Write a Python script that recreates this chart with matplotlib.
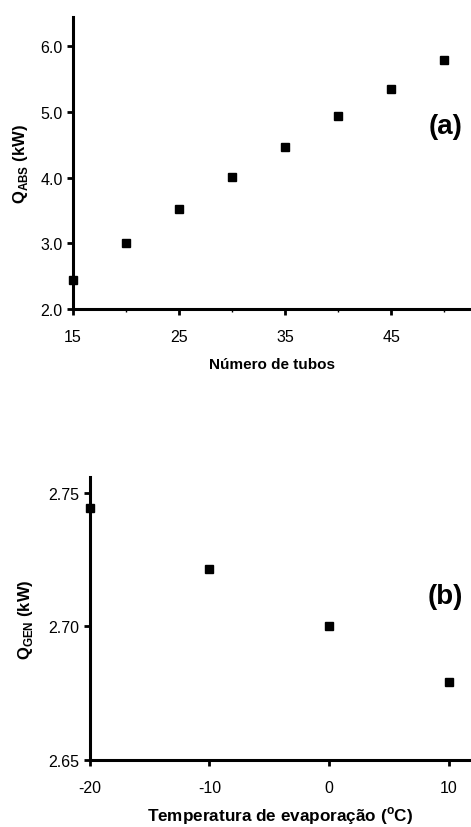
import matplotlib
matplotlib.use("Agg")
import matplotlib.pyplot as plt
from matplotlib.ticker import MultipleLocator, FormatStrFormatter

plt.rcParams['font.family'] = ['Liberation Sans', 'DejaVu Sans']
plt.rcParams['mathtext.fontset'] = 'custom'
plt.rcParams['mathtext.rm'] = 'Liberation Sans'
plt.rcParams['mathtext.bf'] = 'Liberation Sans:bold'
plt.rcParams['axes.unicode_minus'] = False

# Panel (a)
tubos = [15, 20, 25, 30, 35, 40, 45, 50]
q_abs = [2.44, 3.00, 3.52, 4.01, 4.47, 4.94, 5.35, 5.79]
xticks_a = [15, 25, 35, 45]
yticks_a = [2.0, 3.0, 4.0, 5.0, 6.0]

# Panel (b)
temp_evap = [-20, -10, 0, 10]
q_gen = [2.7445, 2.7216, 2.700, 2.679]
xticks_b = [-20, -10, 0, 10]
yticks_b = [2.65, 2.70, 2.75]

fig = plt.figure(figsize=(4.71, 8.28), dpi=100)
ax1 = fig.add_axes([0.155, 0.6256, 0.845, 0.3524])
ax2 = fig.add_axes([0.191, 0.0815, 0.807, 0.3412])

def style(ax):
    for s in ['top', 'right']:
        ax.spines[s].set_visible(False)
    for s in ['left', 'bottom']:
        ax.spines[s].set_linewidth(2.2)
    ax.tick_params(which='major', direction='out', length=4, width=2, labelsize=11.5)
    ax.tick_params(axis='y', which='major', pad=3.5)
    ax.tick_params(axis='x', which='major', pad=10.5)
    ax.tick_params(which='minor', direction='out', length=2.5, width=1)

style(ax1)
ax1.plot(tubos, q_abs, 's', color='black', ms=6, clip_on=False)
ax1.set_xlim(15, 52.5)
ax1.set_ylim(2.0, 6.44)
ax1.set_xticks(xticks_a)
ax1.xaxis.set_minor_locator(MultipleLocator(5))
ax1.set_yticks(yticks_a)
ax1.yaxis.set_major_formatter(FormatStrFormatter('%.1f'))
ax1.set_xlabel('Número de tubos', fontsize=11, fontweight='bold', labelpad=9)
ax1.set_ylabel(r'Q$_{\mathregular{ABS}}$ (kW)', fontsize=12, fontweight='bold', labelpad=7)
fig.text(0.945, 1 - 127/828, '(a)', fontsize=20, fontweight='bold',
         ha='center', va='center')

style(ax2)
ax2.plot(temp_evap, q_gen, 's', color='black', ms=6, clip_on=False)
ax2.set_xlim(-20, 11.8)
ax2.set_ylim(2.65, 2.756)
ax2.set_xticks(xticks_b)
ax2.set_yticks(yticks_b)
ax2.yaxis.set_major_formatter(FormatStrFormatter('%.2f'))
ax2.set_xlabel(r'Temperatura de evaporação ($^{\mathregular{o}}$C)', fontsize=12.3, fontweight='bold', labelpad=7)
ax2.set_ylabel(r'Q$_{\mathregular{GEN}}$ (kW)', fontsize=12, fontweight='bold', labelpad=10)
fig.text(0.945, 1 - 597/828, '(b)', fontsize=20, fontweight='bold',
         ha='center', va='center')

fig.savefig('out.png', dpi=100)
